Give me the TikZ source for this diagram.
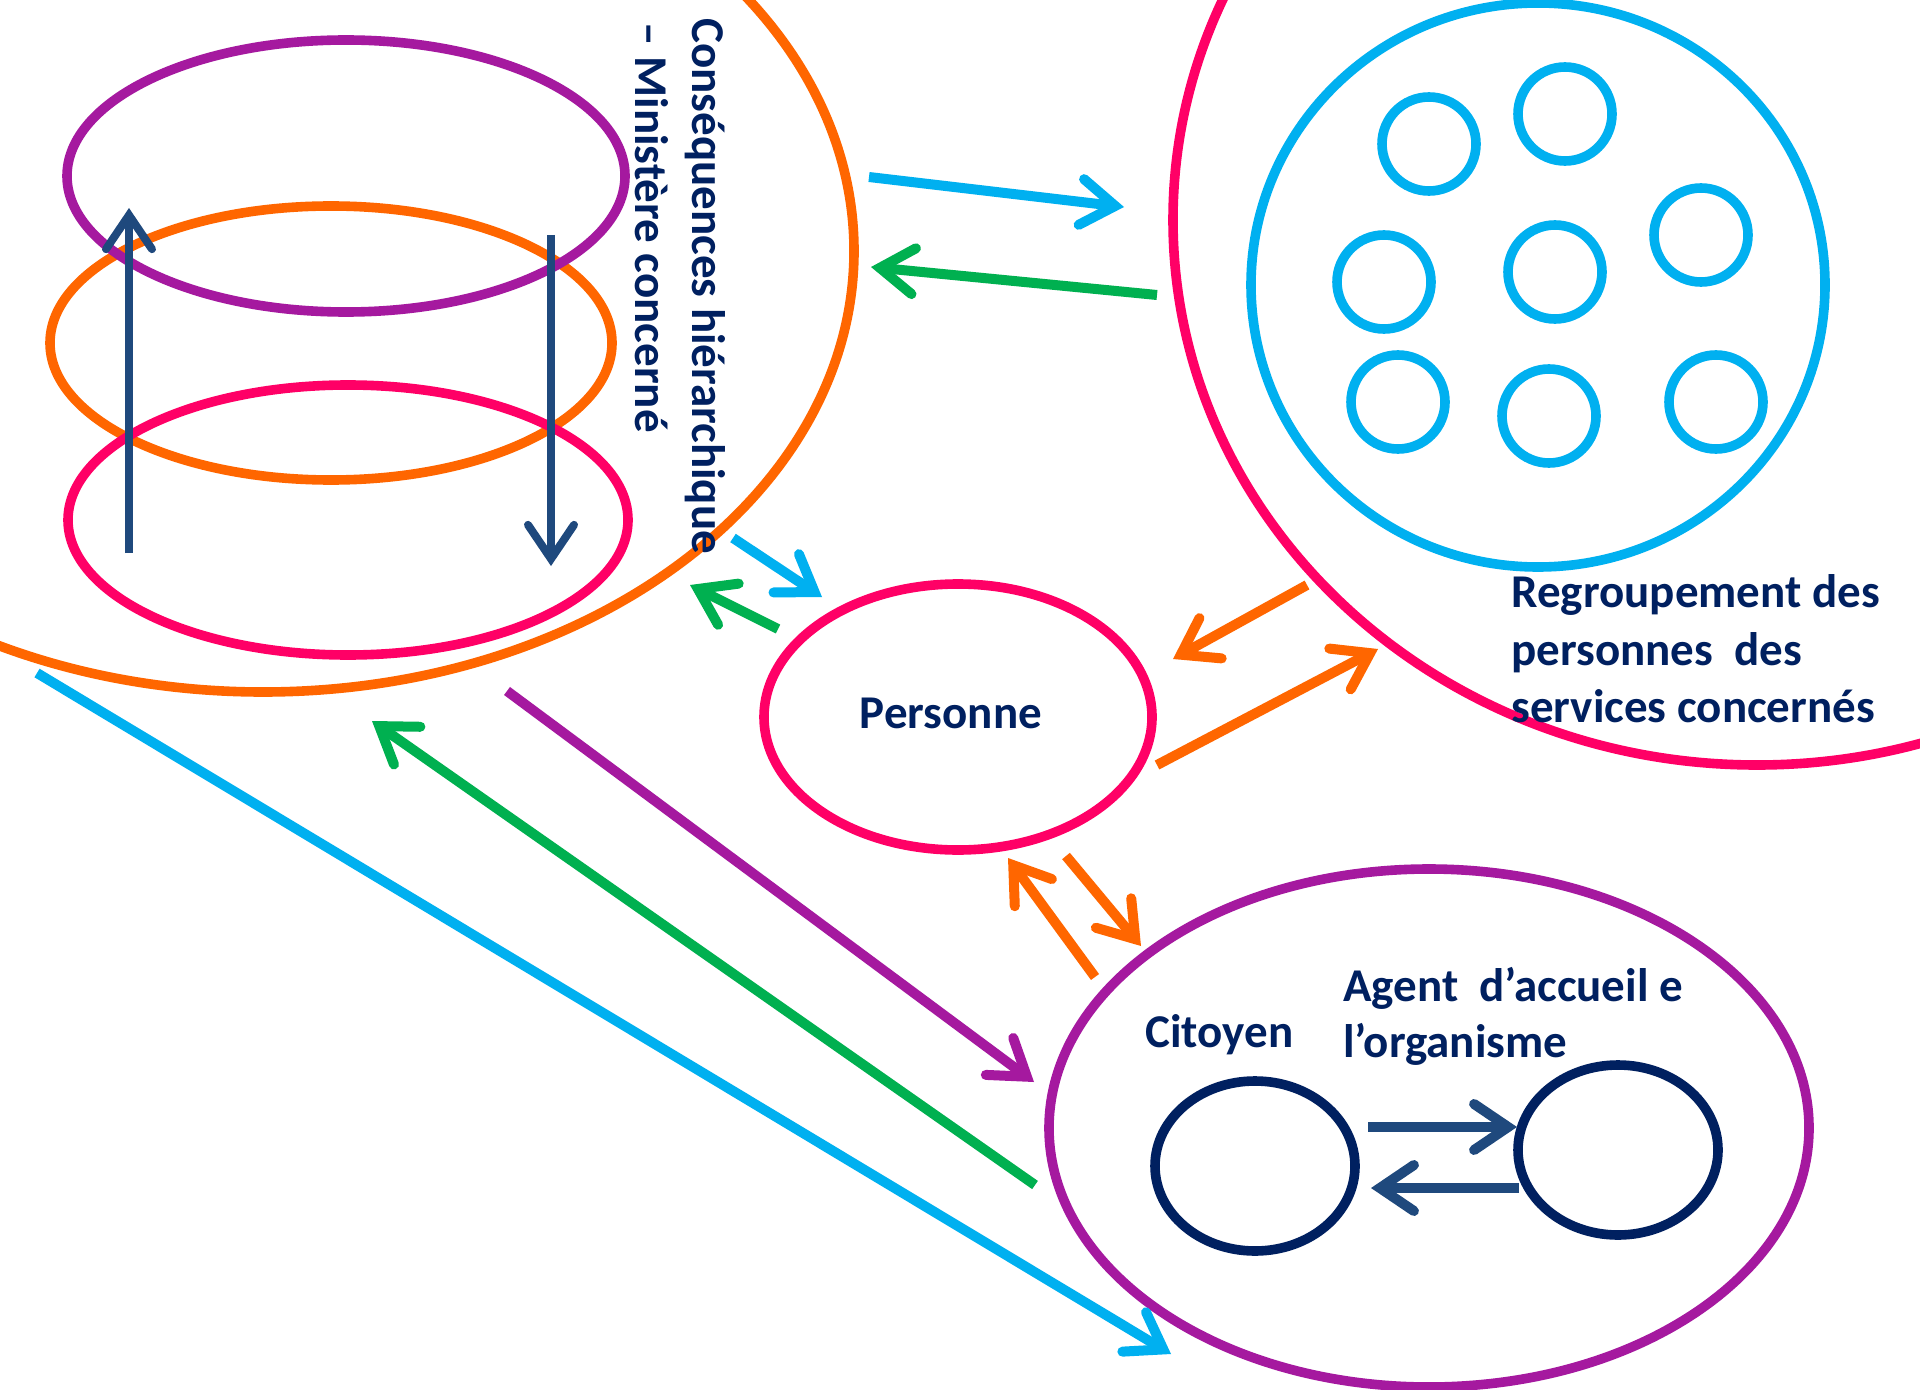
\documentclass[tikz,border=0pt]{standalone}
\usepackage{fontspec}
\setmainfont{Carlito}
\usetikzlibrary{shapes.geometric,arrows.meta}
\definecolor{cOrange}{HTML}{FF6600}
\definecolor{cPink}{HTML}{FF0066}
\definecolor{cPurple}{HTML}{A5199F}
\definecolor{cBlue}{HTML}{00B0F0}
\definecolor{cGreen}{HTML}{00B050}
\definecolor{cNavy}{HTML}{002060}
\definecolor{cSteel}{HTML}{1F497D}
\begin{document}
\begin{tikzpicture}[x=0.5pt,y=-0.5pt,
  ell/.style={ellipse,draw,inner sep=0pt,outer sep=0pt,line width=4.8pt},
  arr/.style={line width=5pt,-{Straight Barb[length=17pt,width=23pt,line cap=round,line join=miter]}},
  lbl/.style={text=cNavy,font=\fontsize{23.5}{28.75}\selectfont\bfseries,inner sep=0pt}]
\useasboundingbox (0,0) rectangle (1920,1390);
\clip (0,0) rectangle (1920,1390);
\fill[white] (0,0) rectangle (1920,1390);

% big containers
\node[ell,draw=cOrange,minimum width=1182pt/2,minimum height=882pt/2] (hier) at (263,251) {};
\node[ell,draw=cPink,minimum width=1168pt/2,minimum height=1090pt/2] (regr) at (1757,220) {};
\node[ell,draw=cBlue,minimum width=574pt/2,minimum height=564pt/2] (serv) at (1538,285) {};
\foreach \n/\p in {s1/{(1429,144)},s2/{(1565,114)},s3/{(1701,235)},s4/{(1384,282)},s5/{(1555,272)},s6/{(1398,402)},s7/{(1549,416)},s8/{(1716,402)}}
  \node[ell,draw=cBlue,minimum width=47pt,minimum height=47pt] (\n) at \p {};

% stacked ellipses
\node[ell,draw=cOrange,minimum width=281pt,minimum height=137pt] (lvb) at (331,343) {};
\node[ell,draw=cPink,minimum width=280pt,minimum height=135pt] (lvc) at (348,520) {};
\node[ell,draw=cPurple,minimum width=279pt,minimum height=136pt] (lva) at (346,176) {};

% personne
\node[ell,draw=cPink,minimum width=194pt,minimum height=133pt] (pers) at (958,717) {};
% citizen group
\node[ell,draw=cPurple,minimum width=380pt,minimum height=259pt] (grp) at (1429,1128) {};
\node[ell,draw=cNavy,minimum width=100pt,minimum height=85pt] (cit) at (1255,1166) {};
\node[ell,draw=cNavy,minimum width=100pt,minimum height=85pt] (agt) at (1618,1150) {};

% texts
\node[lbl,rotate=-90,anchor=base west] (th1) at (692,18) {Conséquences hiérarchique};
\node[lbl,rotate=-90,anchor=base west] (th2) at (635,22) {– Ministère concerné};
\node[lbl,anchor=base west] (tr1) at (1511,607) {Regroupement des};
\node[lbl,anchor=base west] (tr2) at (1511,665) {personnes~ des};
\node[lbl,anchor=base west] (tr3) at (1511,722) {services concernés};
\node[lbl,anchor=base] (tp) at (951,728) {Personne};
\node[lbl,anchor=base west] (tc) at (1145,1047) {Citoyen};
\node[lbl,anchor=base west] (ta1) at (1343,1001) {Agent~ d’accueil e};
\node[lbl,anchor=base west] (ta2) at (1343,1057) {l’organisme};

% coordinates
\coordinate (u0) at (129,553); \coordinate (u1) at (129,208);
\coordinate (d0) at (551,235); \coordinate (d1) at (551,566);
\coordinate (a1s) at (869,177); \coordinate (a1e) at (1124,207);
\coordinate (a2s) at (1157,295); \coordinate (a2e) at (871,267);
\coordinate (a3s) at (733,538); \coordinate (a3e) at (822,597);
\coordinate (a4s) at (778,629); \coordinate (a4e) at (690,585);
\coordinate (a5s) at (1307,585); \coordinate (a5e) at (1173,659);
\coordinate (a6s) at (1157,765); \coordinate (a6e) at (1378,649);
\coordinate (a7s) at (1066,856); \coordinate (a7e) at (1141,946);
\coordinate (a8s) at (1095,977); \coordinate (a8e) at (1008,858);
\coordinate (a9s) at (507,691); \coordinate (a9e) at (1034,1082);
\coordinate (a10s) at (1035,1185); \coordinate (a10e) at (372,721);
\coordinate (a11s) at (37,673); \coordinate (a11e) at (1171,1354);
\coordinate (i1s) at (1368,1127); \coordinate (i1e) at (1517,1127);
\coordinate (i2s) at (1519,1188); \coordinate (i2e) at (1371,1188);

% arrows
\draw[arr,cSteel,line width=4pt] (u0) -- (u1);
\draw[arr,cSteel,line width=4pt] (d0) -- (d1);
\draw[arr,cBlue] (a1s) -- (a1e);
\draw[arr,cGreen] (a2s) -- (a2e);
\draw[arr,cBlue] (a3s) -- (a3e);
\draw[arr,cGreen] (a4s) -- (a4e);
\draw[arr,cOrange] (a5s) -- (a5e);
\draw[arr,cOrange] (a6s) -- (a6e);
\draw[arr,cOrange] (a7s) -- (a7e);
\draw[arr,cOrange] (a8s) -- (a8e);
\draw[arr,cPurple] (a9s) -- (a9e);
\draw[arr,cGreen] (a10s) -- (a10e);
\draw[arr,cBlue] (a11s) -- (a11e);
\draw[arr,cSteel] (i1s) -- (i1e);
\draw[arr,cSteel] (i2s) -- (i2e);
\end{tikzpicture}
\end{document}
